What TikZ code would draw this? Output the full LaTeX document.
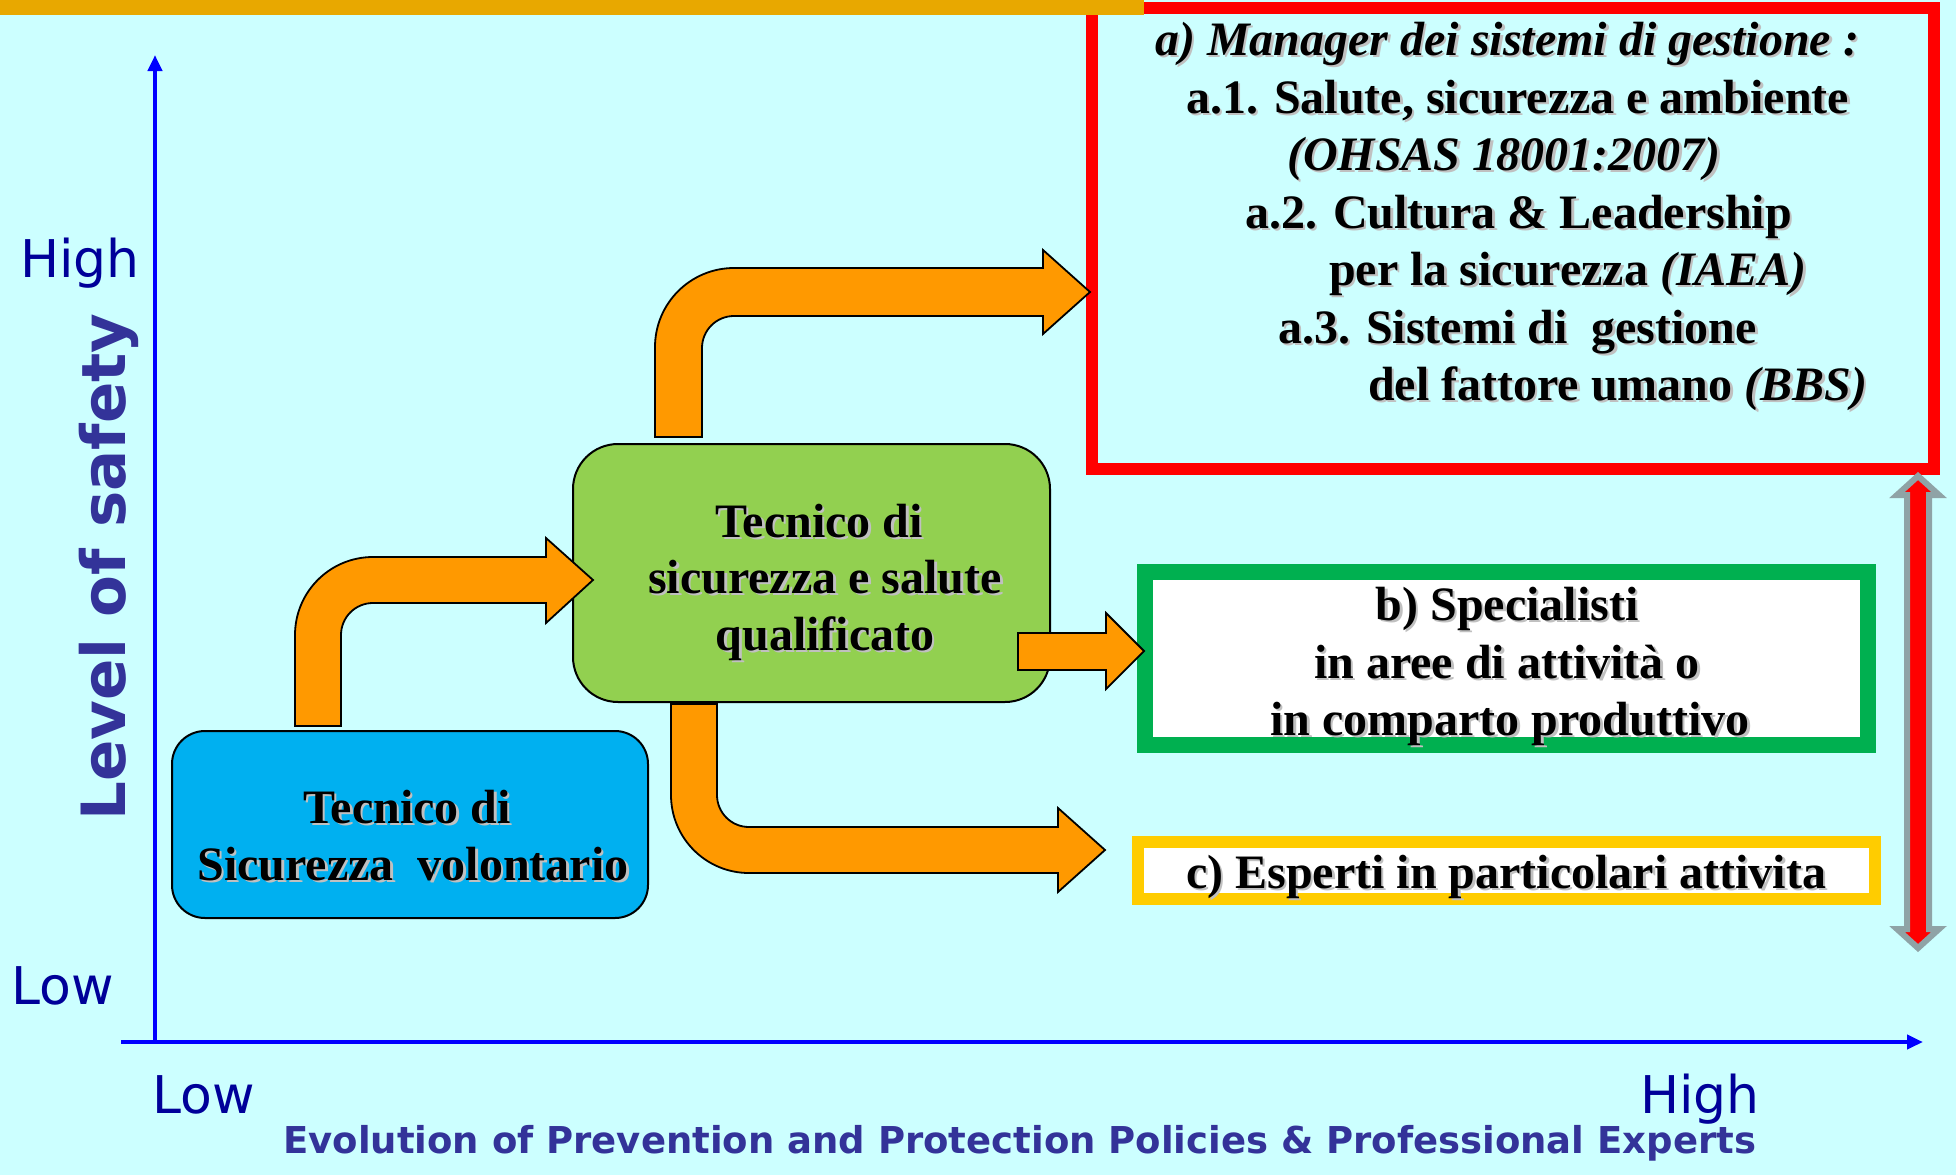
\documentclass[tikz,border=0pt]{standalone}
\usepackage{fontspec}
\setmainfont{Liberation Serif}
\newfontfamily\dvsans{DejaVu Sans}
\usetikzlibrary{arrows.meta}
\definecolor{bgc}{HTML}{CCFFFF}
\definecolor{topbar}{RGB}{232,168,0}
\definecolor{grnborder}{HTML}{00B050}
\definecolor{ylwborder}{HTML}{FFCC00}
\definecolor{bluebox}{HTML}{00B0F0}
\definecolor{qualbox}{HTML}{92D050}
\definecolor{orng}{HTML}{FF9900}
\definecolor{axisblue}{HTML}{0000FF}
\definecolor{labblue}{HTML}{000099}
\definecolor{titleblue}{HTML}{333399}
\definecolor{dblgray}{RGB}{143,163,166}
\definecolor{shdgray}{RGB}{192,192,192}
\newcommand\shd[1]{\leavevmode\rlap{\kern2.5pt\raisebox{-2.5pt}{\color{shdgray}#1}}#1}
\begin{document}
\begin{tikzpicture}[x=1pt,y=-1pt,
  ltxt/.style={anchor=base west,inner sep=0pt,font=\fontsize{48}{57}\selectfont\bfseries},
  ctxt/.style={anchor=base,inner sep=0pt,font=\fontsize{48}{57}\selectfont\bfseries},
  axlab/.style={anchor=base west,inner sep=0pt,text=labblue,font=\dvsans\fontsize{52}{60}\selectfont},
  axisline/.style={draw=axisblue,line width=4pt,-{Triangle[length=16pt,width=14pt]}},
  orangearrow/.style={fill=orng,draw=black,line width=1.8pt,line join=miter},
  framebox/.style={inner sep=0pt,fill=white}
]
\useasboundingbox (0,0) rectangle (1956,1175);
\fill[bgc] (0,0) rectangle (1956,1175);

% axes
\coordinate (origin) at (155,1042);
\coordinate (ytop) at (155,55);
\coordinate (xstart) at (121,1042);
\coordinate (xend) at (1923,1042);
\draw[axisline] (origin) -- (ytop);
\draw[axisline] (xstart) -- (xend);

% boxes
\node[draw=red,line width=12pt,minimum width=842pt,minimum height=461pt,inner sep=0pt] (abox) at (1513,238.5) {};
\fill[topbar] (0,0) rectangle (1144,15);
\node[framebox,draw=grnborder,line width=16pt,minimum width=723pt,minimum height=173pt] (bbox) at (1506.5,658.5) {};
\node[framebox,draw=ylwborder,line width=12pt,minimum width=737pt,minimum height=57pt] (cbox) at (1506.5,870.5) {};
\node[draw=black,fill=bluebox,line width=2pt,rounded corners=33pt,minimum width=476pt,minimum height=187pt,inner sep=0pt] (vol) at (410,824.5) {};
\node[draw=black,fill=qualbox,line width=2pt,rounded corners=45pt,minimum width=477pt,minimum height=258pt,inner sep=0pt] (qual) at (811.5,573) {};

% orange bent arrows
\filldraw[orangearrow] (295,726) -- (295,635) .. controls (295,591.9) and (329.9,557) .. (373,557)
  -- (546,557) -- (546,538) -- (593,580) -- (546,623) -- (546,603) -- (373,603)
  .. controls (355.3,603) and (341,617.3) .. (341,635) -- (341,726) -- cycle;
\filldraw[orangearrow] (655,437) -- (655,347) .. controls (655,303.4) and (690.4,268) .. (734,268)
  -- (1043,268) -- (1043,250) -- (1090,292) -- (1043,334) -- (1043,316) -- (734,316)
  .. controls (716.3,316) and (702,330.3) .. (702,348) -- (702,437) -- cycle;
\filldraw[orangearrow] (1018,633) -- (1106,633) -- (1106,613) -- (1144,651) -- (1106,689) -- (1106,670) -- (1018,670) -- cycle;
\filldraw[orangearrow] (671,704) -- (671,795) .. controls (671,838.1) and (705.9,873) .. (749,873)
  -- (1058,873) -- (1058,892) -- (1105,850) -- (1058,808) -- (1058,827) -- (749,827)
  .. controls (731.3,827) and (717,812.7) .. (717,795) -- (717,704) -- cycle;

% double arrow
\filldraw[fill=red,draw=dblgray,line width=6pt,line join=miter]
  (1918,476) -- (1939,495) -- (1929,495) -- (1929,929) -- (1939,929) -- (1918,948)
  -- (1897,929) -- (1907,929) -- (1907,495) -- (1897,495) -- cycle;

% texts in red box
\node[ltxt] (a1) at (1155,55) {\shd{\textit{a) Manager dei sistemi di gestione :}}};
\node[ltxt] (a2) at (1186,113) {\shd{a.1. Salute, sicurezza e ambiente}};
\node[ltxt] (a3) at (1287,170) {\shd{\textit{(OHSAS 18001:2007)}}};
\node[ltxt] (a4) at (1245,228) {\shd{a.2. Cultura \& Leadership}};
\node[ltxt] (a5) at (1329,285) {\shd{per la sicurezza \textit{(IAEA)}}};
\node[ltxt] (a6) at (1278,343) {\shd{a.3. Sistemi di\ \ gestione}};
\node[ltxt] (a7) at (1368,400) {\shd{del fattore umano \textit{(BBS)}}};

% texts in b and c
\node[ctxt] (b1) at (1507,620) {\shd{b) Specialisti}};
\node[ctxt] (b2) at (1507,678) {\shd{in aree di attività o}};
\node[ctxt] (b3) at (1510,735) {\shd{in comparto produttivo}};
\node[ctxt] (c1) at (1506,888) {\shd{c) Esperti in particolari attivita}};

% texts in rounded boxes
\node[ctxt] (v1) at (407,823) {\shd{Tecnico di}};
\node[ctxt] (v2) at (413,880) {\shd{Sicurezza\ \ volontario}};
\node[ctxt] (q1) at (819,537) {\shd{Tecnico di}};
\node[ctxt] (q2) at (825,593) {\shd{sicurezza e salute}};
\node[ctxt] (q3) at (825,650) {\shd{qualificato}};

% axis labels
\node[axlab] (yhigh) at (20,277) {High};
\node[axlab] (ylow) at (11,1004) {Low};
\node[axlab] (xlow) at (152,1113) {Low};
\node[axlab] (xhigh) at (1640,1113) {High};
\node[anchor=base west,inner sep=0pt,rotate=90,text=titleblue,font=\dvsans\bfseries\fontsize{61}{70}\selectfont] (ylabel) at (125,821) {Level of safety};
\node[anchor=base west,inner sep=0pt,text=titleblue,font=\dvsans\bfseries\fontsize{37}{44}\selectfont] (title) at (283,1153) {Evolution of Prevention and Protection Policies \& Professional Experts};
\end{tikzpicture}
\end{document}
